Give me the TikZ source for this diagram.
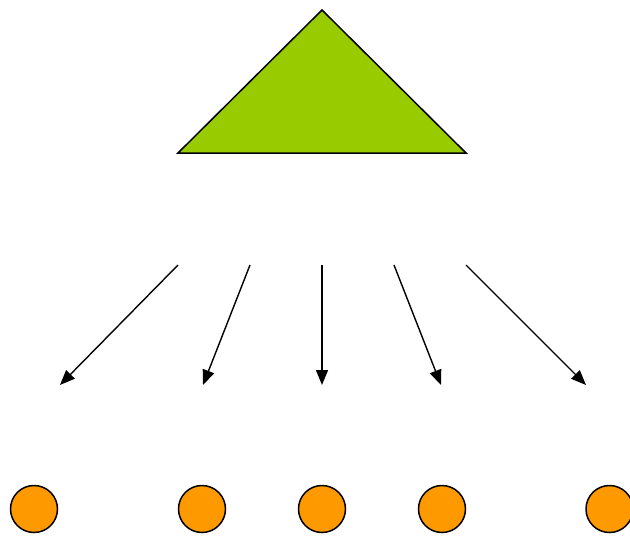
\documentclass[tikz,border=0pt]{standalone}
\usepackage{tikz}
\usetikzlibrary{arrows.meta}
\definecolor{leafgreen}{HTML}{99CC00}
\definecolor{ballorange}{HTML}{FF9900}

\begin{document}
\begin{tikzpicture}[x=1pt,y=-1pt,>={Triangle[length=15pt,width=12pt]},
    ball/.style={circle,draw=black,fill=ballorange,line width=1.5pt,minimum size=47pt,inner sep=0pt},
    split/.style={->,line width=1.4pt}]
\useasboundingbox (0,0) rectangle (630,536);
\clip (0,0) rectangle (630,536);
% the whole
\draw[fill=leafgreen,line width=1.5pt,line join=miter] (322,10) -- (466,153) -- (178,153) -- cycle;
% the parts
\foreach \n/\x in {a/34,b/202,c/322,d/442,e/609.5} {
  \node[ball] (\n) at (\x,509) {};
}
\foreach \n/\xs/\xe in {a/178/60,b/250/203,c/322/322,d/394/441,e/466/586} {
  \coordinate (s\n) at (\xs,265);
  \coordinate (t\n) at (\xe,385);
  \draw[split] (s\n) -- (t\n);
}
\end{tikzpicture}
\end{document}
